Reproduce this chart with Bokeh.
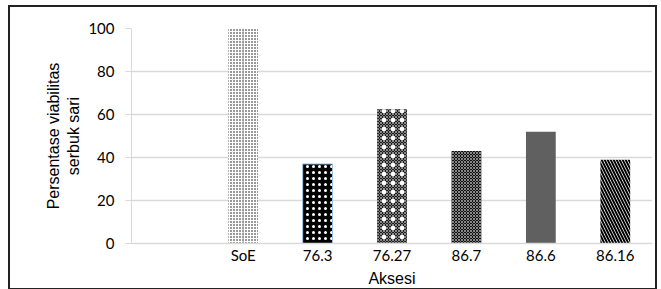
from bokeh.plotting import figure
from bokeh.models import ColumnDataSource, FactorRange, FixedTicker
from bokeh.embed import file_html
from bokeh.resources import INLINE

# ---- data ----
categories = [" ", "SoE", "76.3", "76.27", "86.7", "86.6", "86.16"]
accessions = ["SoE", "76.3", "76.27", "86.7", "86.6", "86.16"]
viability = [100, 37, 62.5, 43, 52, 39]
y_ticks = [0, 20, 40, 60, 80, 100]

# ---- styles ----
fill_colors = ["white", "black", "#1e1e1e", "#111111", "#606060", "white"]
hatch_patterns = ["dot", "dot", "diagonal_cross", "diagonal_cross", " ", "left_diagonal_line"]
hatch_colors = ["black", "white", "#cfcfcf", "#d8d8d8", "black", "black"]
hatch_scales = [3, 6, 3, 3, 6, 6]
hatch_weights = [1.6, 1.6, 0.6, 0.6, 1, 2]
line_colors = [None, "#9dc3e6", None, None, None, None]

src = ColumnDataSource(dict(x=accessions, top=viability, fill=fill_colors,
                            hp=hatch_patterns, hc=hatch_colors, hs=hatch_scales,
                            hw=hatch_weights, lc=line_colors))

p = figure(x_range=FactorRange(*categories), y_range=(0, 100),
           width=645, height=281, output_backend="svg", toolbar_location=None,
           min_border_left=121, min_border_right=7, min_border_top=21, min_border_bottom=49)
p.styles = {"border": "2px solid #222222", "box-sizing": "content-box",
            "margin-left": "8px", "margin-top": "5px"}

p.vbar(x="x", top="top", width=0.4, source=src, fill_color="fill",
       hatch_pattern="hp", hatch_color="hc", hatch_scale="hs", hatch_weight="hw",
       line_color="lc", line_width=1)

# white dots overlay on 76.27
i = accessions.index("76.27")
p.vbar(x=[accessions[i]], top=[viability[i]], width=0.4, fill_color=None, line_color=None,
       hatch_pattern="dot", hatch_color="white", hatch_scale=9, hatch_weight=2.5)

# grey vertical line through SoE bar
p.segment(x0=[accessions[0]], y0=[0], x1=[accessions[0]], y1=[viability[0]],
          line_color="#a6a6a6", line_width=1)

p.outline_line_color = None
p.xgrid.grid_line_color = None
p.ygrid.grid_line_color = "#d9d9d9"
p.ygrid.grid_line_width = 1.3
p.ygrid.level = "underlay"

p.yaxis.ticker = FixedTicker(ticks=y_ticks)
p.yaxis.axis_line_color = "#d9d9d9"
p.yaxis.major_tick_line_color = "#d9d9d9"
p.yaxis.major_tick_in = 0
p.yaxis.major_tick_out = 6
p.yaxis.minor_tick_line_color = None
p.yaxis.major_label_standoff = 11
p.yaxis.axis_label = "Persentase viabilitas\nserbuk sari"
p.yaxis.axis_label_standoff = 3

p.xaxis.axis_line_color = "#d9d9d9"
p.xaxis.axis_line_width = 1.3
p.xaxis.major_tick_line_color = None
p.xaxis.minor_tick_line_color = None
p.xaxis.major_tick_out = 0
p.xaxis.major_label_standoff = 2
p.xaxis.axis_label = "Aksesi"
p.xaxis.axis_label_standoff = 3

for ax in (p.xaxis, p.yaxis):
    ax.major_label_text_font = "Lato"
    ax.major_label_text_font_size = "15px"
    ax.major_label_text_color = "#000000"
    ax.axis_label_text_font = "Liberation Sans"
    ax.axis_label_text_font_size = "16px"
    ax.axis_label_text_font_style = "normal"
    ax.axis_label_text_color = "#000000"

open("out.html", "w").write(file_html(p, INLINE))
